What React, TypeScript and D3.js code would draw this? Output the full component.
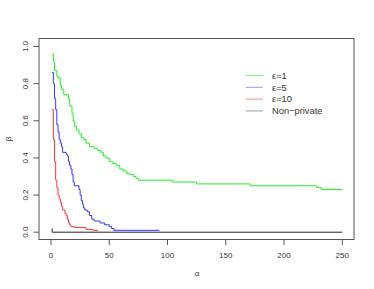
import React from "react";
import * as d3 from "d3";

const greenX = [1, 2, 3, 5, 6, 8, 9, 11, 15, 16, 18, 19, 20, 22, 24, 26, 28, 30, 33, 37, 40, 43, 45, 47, 50, 53, 56, 59, 62, 65, 68, 71, 73, 75, 104, 125, 171, 228, 232, 250];
const greenY = [0.96, 0.92, 0.87, 0.84, 0.83, 0.79, 0.77, 0.74, 0.72, 0.68, 0.64, 0.6, 0.57, 0.55, 0.53, 0.51, 0.5, 0.48, 0.46, 0.45, 0.44, 0.43, 0.41, 0.4, 0.38, 0.37, 0.36, 0.34, 0.33, 0.315, 0.31, 0.3, 0.29, 0.28, 0.27, 0.26, 0.25, 0.24, 0.23, 0.23];

const blueX = [1, 2, 3, 4, 5, 6, 7, 8, 9, 10, 13, 14, 15, 16, 17, 18, 19, 20, 24, 25, 26, 27, 28, 29, 31, 33, 35, 37, 42, 46, 50, 52, 54, 93];
const blueY = [0.86, 0.8, 0.72, 0.66, 0.58, 0.54, 0.5, 0.48, 0.46, 0.43, 0.42, 0.41, 0.38, 0.36, 0.34, 0.31, 0.27, 0.25, 0.23, 0.2, 0.17, 0.15, 0.13, 0.12, 0.11, 0.09, 0.07, 0.06, 0.05, 0.04, 0.03, 0.02, 0.01, 0.01];

const redX = [1, 2, 3, 4, 5, 6, 7, 8, 9, 10, 12, 13, 14, 15, 16, 17, 20, 30, 36, 40];
const redY = [0.66, 0.5, 0.38, 0.28, 0.24, 0.2, 0.18, 0.16, 0.14, 0.12, 0.1, 0.09, 0.07, 0.05, 0.04, 0.03, 0.025, 0.015, 0.01, 0.005];

const blackX = [1, 1, 250];
const blackY = [0.02, 0, 0];

const xTicks = [0, 50, 100, 150, 200, 250];
const yTicks = [0, 0.2, 0.4, 0.6, 0.8, 1.0];

const legendLabels = ["\u03b5=1", "\u03b5=5", "\u03b5=10", "Non\u2212private"];
const lineColors = ["#22ee22", "#3333ff", "#ff3333", "#222222"];
const legendColors = ["#77f777", "#9999ff", "#ff8888", "#999999"];

const W = 374;
const H = 289;
const box = { left: 39, right: 354, top: 38.5, bottom: 239.5 };
const font = "Liberation Sans, Arial, Helvetica, sans-serif";

export default function App() {
  const x = d3.scaleLinear().domain([0, 250]).range([51, 342.3]);
  const y = d3.scaleLinear().domain([0, 1]).range([232.2, 46.5]);

  const series = [
    { xs: greenX, ys: greenY, c: lineColors[0] },
    { xs: blueX, ys: blueY, c: lineColors[1] },
    { xs: redX, ys: redY, c: lineColors[2] },
    { xs: blackX, ys: blackY, c: lineColors[3] },
  ];

  const line = d3
    .line<[number, number]>()
    .x((d) => x(d[0]))
    .y((d) => y(d[1]))
    .curve(d3.curveStepAfter);

  return (
    <svg
      width={W}
      height={H}
      style={{ position: "absolute", left: 0, top: 0, background: "#fff" }}
      fontFamily={font}
    >
      <rect x={0} y={0} width={W} height={H} fill="#fff" />
      {series.map((s, i) => (
        <path
          key={i}
          d={line(s.xs.map((v, j) => [v, s.ys[j]] as [number, number])) || ""}
          fill="none"
          stroke={s.c}
          strokeWidth={1}
        />
      ))}
      <rect
        x={box.left}
        y={box.top}
        width={box.right - box.left}
        height={box.bottom - box.top}
        fill="none"
        stroke="#555"
        strokeWidth={1}
      />
      {xTicks.map((t) => (
        <g key={"x" + t}>
          <line x1={x(t)} x2={x(t)} y1={box.bottom} y2={box.bottom + 5.5} stroke="#555" />
          <text x={x(t)} y={258} fontSize={8} textAnchor="middle" fill="#333">
            {t}
          </text>
        </g>
      ))}
      {yTicks.map((t) => (
        <g key={"y" + t}>
          <line x1={box.left - 5.5} x2={box.left} y1={y(t)} y2={y(t)} stroke="#555" />
          <text
            transform={`translate(28,${y(t)}) rotate(-90)`}
            fontSize={8}
            textAnchor="middle"
            fill="#333"
          >
            {t.toFixed(1)}
          </text>
        </g>
      ))}
      <text x={197} y={276} fontSize={8} textAnchor="middle" fill="#333">
        {"\u03b1"}
      </text>
      <text
        transform={`translate(11,139) rotate(-90)`}
        fontSize={8}
        textAnchor="middle"
        fill="#333"
      >
        {"\u03b2"}
      </text>
      {legendLabels.map((l, i) => (
        <g key={l}>
          <line
            x1={246}
            x2={263}
            y1={75.5 + i * 11.8}
            y2={75.5 + i * 11.8}
            stroke={legendColors[i]}
            strokeWidth={1}
          />
          <text x={272} y={75.5 + i * 11.8 + 3.3} fontSize={9.3} fill="#333">
            {l}
          </text>
        </g>
      ))}
    </svg>
  );
}
